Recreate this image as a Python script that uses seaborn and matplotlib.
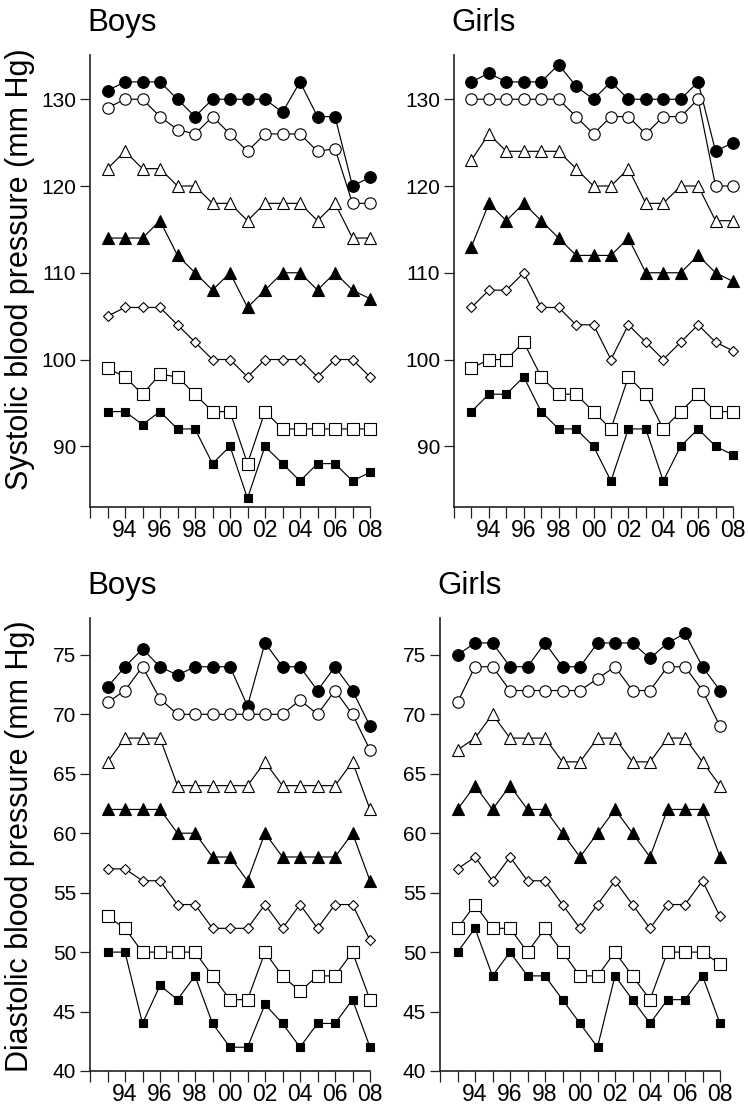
import numpy as np
import pandas as pd
import matplotlib
matplotlib.use("Agg")
import matplotlib.pyplot as plt
import seaborn as sns

# ---------------- data ----------------
years = list(range(1993, 2009))
tick_years = list(range(1992, 2009))
tick_labels = ["" if (y % 2 == 1 or y == 1992) else f"{y % 100:02d}" for y in tick_years]

# Boys systolic
bs_fc = [131, 132, 132, 132, 130, 128, 130, 130, 130, 130, 128.5, 132, 128, 128, 120, 121]
bs_oc = [129, 130, 130, 128, 126.5, 126, 128, 126, 124, 126, 126, 126, 124, 124.3, 118, 118]
bs_ot = [122, 124, 122, 122, 120, 120, 118, 118, 116, 118, 118, 118, 116, 118, 114, 114]
bs_ft = [114, 114, 114, 116, 112, 110, 108, 110, 106, 108, 110, 110, 108, 110, 108, 107]
bs_od = [105, 106, 106, 106, 104, 102, 100, 100, 98, 100, 100, 100, 98, 100, 100, 98]
bs_os = [99, 98, 96, 98.3, 98, 96, 94, 94, 88, 94, 92, 92, 92, 92, 92, 92]
bs_fs = [94, 94, 92.5, 94, 92, 92, 88, 90, 84, 90, 88, 86, 88, 88, 86, 87]

# Girls systolic
gs_fc = [132, 133, 132, 132, 132, 134, 131.5, 130, 132, 130, 130, 130, 130, 132, 124, 125]
gs_oc = [130, 130, 130, 130, 130, 130, 128, 126, 128, 128, 126, 128, 128, 130, 120, 120]
gs_ot = [123, 126, 124, 124, 124, 124, 122, 120, 120, 122, 118, 118, 120, 120, 116, 116]
gs_ft = [113, 118, 116, 118, 116, 114, 112, 112, 112, 114, 110, 110, 110, 112, 110, 109]
gs_od = [106, 108, 108, 110, 106, 106, 104, 104, 100, 104, 102, 100, 102, 104, 102, 101]
gs_os = [99, 100, 100, 102, 98, 96, 96, 94, 92, 98, 96, 92, 94, 96, 94, 94]
gs_fs = [94, 96, 96, 98, 94, 92, 92, 90, 86, 92, 92, 86, 90, 92, 90, 89]

# Boys diastolic
bd_fc = [72.3, 74, 75.5, 74, 73.3, 74, 74, 74, 70.7, 76, 74, 74, 72, 74, 72, 69]
bd_oc = [71, 72, 74, 71.3, 70, 70, 70, 70, 70, 70, 70, 71.2, 70, 72, 70, 67]
bd_ot = [66, 68, 68, 68, 64, 64, 64, 64, 64, 66, 64, 64, 64, 64, 66, 62]
bd_ft = [62, 62, 62, 62, 60, 60, 58, 58, 56, 60, 58, 58, 58, 58, 60, 56]
bd_od = [57, 57, 56, 56, 54, 54, 52, 52, 52, 54, 52, 54, 52, 54, 54, 51]
bd_os = [53, 52, 50, 50, 50, 50, 48, 46, 46, 50, 48, 46.7, 48, 48, 50, 46]
bd_fs = [50, 50, 44, 47.2, 46, 48, 44, 42, 42, 45.6, 44, 42, 44, 44, 46, 42]

# Girls diastolic
gd_fc = [75, 76, 76, 74, 74, 76, 74, 74, 76, 76, 76, 74.7, 76, 76.8, 74, 72]
gd_oc = [71, 74, 74, 72, 72, 72, 72, 72, 73, 74, 72, 72, 74, 74, 72, 69]
gd_ot = [67, 68, 70, 68, 68, 68, 66, 66, 68, 68, 66, 66, 68, 68, 66, 64]
gd_ft = [62, 64, 62, 64, 62, 62, 60, 58, 60, 62, 60, 58, 62, 62, 62, 58]
gd_od = [57, 58, 56, 58, 56, 56, 54, 52, 54, 56, 54, 52, 54, 54, 56, 53]
gd_os = [52, 54, 52, 52, 50, 52, 50, 48, 48, 50, 48, 46, 50, 50, 50, 49]
gd_fs = [50, 52, 48, 50, 48, 48, 46, 44, 42, 48, 46, 44, 46, 46, 48, 44]

titles = ["Boys", "Girls", "Boys", "Girls"]
ylabels = ["Systolic blood pressure (mm Hg)", "Diastolic blood pressure (mm Hg)"]
sys_ticks = [90, 100, 110, 120, 130]
dia_ticks = [40, 45, 50, 55, 60, 65, 70, 75]

# ---------------- styles ----------------
series_styles = [
    dict(marker="o", ms=8.4, mfc="black"),   # filled circle
    dict(marker="o", ms=8.2, mfc="white"),   # open circle
    dict(marker="^", ms=8.2, mfc="white"),   # open triangle
    dict(marker="^", ms=8.2, mfc="black"),   # filled triangle
    dict(marker="D", ms=5.2, mfc="white"),   # open diamond
    dict(marker="s", ms=8.0, mfc="white"),   # open square
    dict(marker="s", ms=6.0, mfc="black"),   # filled square
]

sns.set_theme(style="ticks")
plt.rcParams["font.family"] = ["Liberation Sans", "DejaVu Sans"]
plt.rcParams["axes.edgecolor"] = "#222222"
plt.rcParams["xtick.color"] = "#222222"
plt.rcParams["ytick.color"] = "#222222"
plt.rcParams["xtick.labelcolor"] = "black"
plt.rcParams["ytick.labelcolor"] = "black"

fig = plt.figure(figsize=(7.48, 11.05), dpi=100)
W, H = 748.0, 1105.0

# axes rectangles in pixels: (left, top, right, bottom)
rects = [
    (90, 55, 370, 507),
    (454, 55, 733, 507),
    (90, 618, 370, 1071),
    (440, 618, 720, 1071),
]

panels = [
    [bs_fc, bs_oc, bs_ot, bs_ft, bs_od, bs_os, bs_fs],
    [gs_fc, gs_oc, gs_ot, gs_ft, gs_od, gs_os, gs_fs],
    [bd_fc, bd_oc, bd_ot, bd_ft, bd_od, bd_os, bd_fs],
    [gd_fc, gd_oc, gd_ot, gd_ft, gd_od, gd_os, gd_fs],
]

for i, (rect, series) in enumerate(zip(rects, panels)):
    l, t, r, b = rect
    ax = fig.add_axes([l / W, 1 - b / H, (r - l) / W, (b - t) / H])
    for vals, st in zip(series, series_styles):
        df = pd.DataFrame({"year": years, "value": vals})
        sns.lineplot(data=df, x="year", y="value", ax=ax, color="black",
                     linewidth=0.85, marker=st["marker"], markersize=st["ms"],
                     markerfacecolor=st["mfc"], markeredgecolor="black",
                     markeredgewidth=0.8, clip_on=False, zorder=3)
    ax.set_xlim(1992, 2008)
    if i < 2:
        ax.set_ylim(83, 135.1)
        ax.set_yticks(sys_ticks)
    else:
        ax.set_ylim(40, 78.1)
        ax.set_yticks(dia_ticks)
    ax.set_xticks(tick_years)
    ax.set_xticklabels(tick_labels)
    ax.set_xlabel("")
    ax.set_ylabel("")
    sns.despine(ax=ax)
    ax.spines["left"].set_linewidth(1.2)
    ax.spines["bottom"].set_linewidth(1.2)
    ax.tick_params(axis="x", direction="out", length=8, width=0.9, pad=0.5, labelsize=16.5)
    ax.tick_params(axis="y", direction="out", length=7, width=0.9, pad=3, labelsize=15)
    ax.text(-0.008, 1.0 + 24 / (b - t), titles[i], transform=ax.transAxes,
            ha="left", va="baseline", fontsize=22.5, color="black")

fig.text(20 / W, 1 - 269 / H, ylabels[0], rotation=90, ha="center", va="center",
         fontsize=22, color="black")
fig.text(20 / W, 1 - 846 / H, ylabels[1], rotation=90, ha="center", va="center",
         fontsize=22, color="black")

fig.savefig("out.png", dpi=100)
